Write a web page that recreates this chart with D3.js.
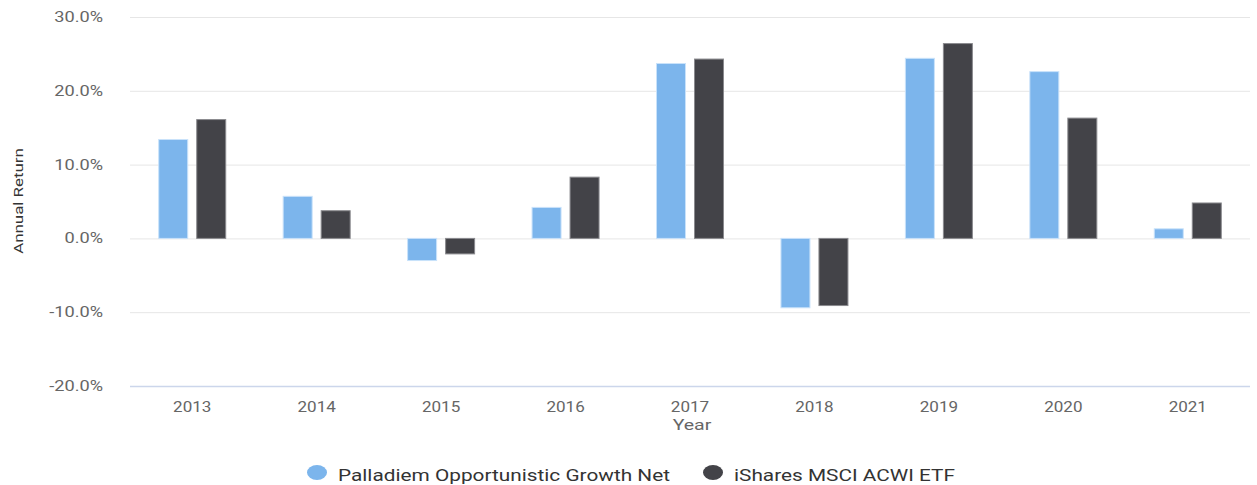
<!DOCTYPE html>
<html><head><meta charset="utf-8">
<script src="https://cdn.jsdelivr.net/npm/d3@7"></script>
<style>body{margin:0;background:#fff;font-family:Roboto,"Noto Sans",sans-serif}</style>
</head><body><svg id="c" width="1257" height="485"></svg>
<script>
const years = ["2013","2014","2015","2016","2017","2018","2019","2020","2021"];
const seriesNames = ["Palladiem Opportunistic Growth Net","iShares MSCI ACWI ETF"];
const palladiem = [13.4, 5.7, -3.0, 4.2, 23.7, -9.4, 24.4, 22.6, 1.3];
const ishares = [16.1, 3.75, -2.1, 8.3, 24.3, -9.1, 26.4, 16.3, 4.8];
const yTicks = [-20, -10, 0, 10, 20, 30];
const colors = ["#7cb5ec", "#434348"];
const strokes = ["#c9e2fa", "#8a8a8e"];

(function(){
const svg = d3.select("#c");
const mL = 130, mR = 1250, mT = 17, mB = 386;
const x = d3.scaleBand().domain(years).range([mL, mR]);
const x1 = d3.scaleBand().domain([0,1]).range([0, 67]).paddingInner(0.237);
const y = d3.scaleLinear().domain([-20, 30]).range([mB, mT]);

const ys = 1.3;
const yAxis = svg.append("g").attr("transform", `translate(${mL},0)`)
  .call(d3.axisLeft(y).tickValues(yTicks).tickSize(-(mR-mL)).tickPadding(27)
    .tickFormat(d => d3.format(".1f")(d).replace("\u2212", "-") + "%"));
yAxis.select(".domain").remove();
yAxis.selectAll(".tick line").attr("stroke", d => d === -20 ? "#ccd6eb" : "#e6e6e6").attr("stroke-width", d => d===-20?1.5:1);
yAxis.selectAll(".tick text").attr("fill", "#666").style("font-size", "14px").style("font-family", "Roboto")
  .attr("x", -27/ys).attr("transform", `scale(${ys},1)`);

const xs = 1.1;
const xAxis = svg.append("g").attr("transform", `translate(0,${mB})`)
  .call(d3.axisBottom(x).tickSize(0).tickPadding(15));
xAxis.select(".domain").remove();
xAxis.selectAll(".tick").each(function(){
  const t = d3.select(this).attr("transform");
  const m = /translate\(([-\d.]+)/.exec(t);
  d3.select(this).attr("transform", `translate(${m[1]},0) scale(${xs},1)`);
});
xAxis.selectAll(".tick text").attr("fill", "#666").style("font-size", "15.5px").style("font-family", "Roboto");

const data = [palladiem, ishares];
const g = svg.append("g");
data.forEach((vals, s) => {
  g.selectAll(".b" + s).data(vals).enter().append("rect")
    .attr("x", (d, i) => x(years[i]) + x.bandwidth()/2 - 33.5 + x1(s))
    .attr("width", x1.bandwidth())
    .attr("y", d => y(Math.max(0, d)))
    .attr("height", d => Math.abs(y(d) - y(0)))
    .attr("fill", colors[s]).attr("stroke", strokes[s]).attr("stroke-width", 1);
});

svg.append("text").attr("transform", `translate(23,201) rotate(-90) scale(1.3,1)`).attr("text-anchor", "middle")
  .attr("fill", "#333").style("font-size", "13px").text("Annual Return");
svg.append("text").attr("transform", `translate(692,430) scale(1.26,1)`).attr("text-anchor", "middle")
  .attr("fill", "#666").style("font-size", "15.5px").text("Year");

const legX = [317, 713];
const leg = svg.append("g");
seriesNames.forEach((n, i) => {
  leg.append("ellipse").attr("cx", legX[i]).attr("cy", 472.5).attr("rx", 10).attr("ry", 7.5).attr("fill", colors[i]);
  leg.append("text").attr("transform", `translate(${legX[i] + 21},481) scale(1.3,1)`).attr("fill", "#333").style("font-size", "16px").text(n);
});
})();
</script></body></html>
